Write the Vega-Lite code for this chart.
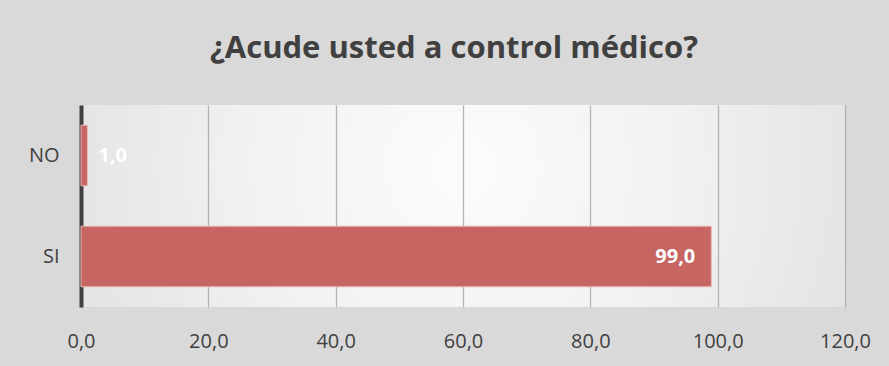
{
  "$schema": "https://vega.github.io/schema/vega-lite/v6.json",
  "width": 764,
  "height": 202,
  "autosize": {"type": "none"},
  "padding": {"left": 81, "top": 105, "right": 44, "bottom": 59},
  "background": "#d9d9d9",
  "title": {
    "text": "¿Acude usted a control médico?",
    "font": "Open Sans",
    "fontSize": 31,
    "fontWeight": "bold",
    "color": "#404040",
    "anchor": "middle",
    "baseline": "alphabetic",
    "offset": 16,
    "dx": -9
  },
  "data": {
    "values": [
      {"respuesta": "NO", "porcentaje": 1.0},
      {"respuesta": "SI", "porcentaje": 99.0}
    ]
  },
  "encoding": {
    "y": {
      "field": "respuesta",
      "type": "nominal",
      "sort": ["NO", "SI"],
      "scale": {"paddingInner": 0.4, "paddingOuter": 0.2},
      "axis": {
        "title": null,
        "ticks": false,
        "grid": false,
        "domain": true,
        "domainColor": "#404040",
        "domainWidth": 4,
        "labelFont": "Open Sans",
        "labelFontSize": 20,
        "labelColor": "#404040",
        "labelPadding": 22
      }
    },
    "x": {
      "field": "porcentaje",
      "type": "quantitative",
      "scale": {"domain": [0, 120], "nice": false},
      "axis": {
        "title": null,
        "values": [0, 20, 40, 60, 80, 100, 120],
        "format": ".1f",
        "ticks": false,
        "domain": false,
        "grid": true,
        "gridColor": "#b3b3b3",
        "gridWidth": 1.3,
        "labelFlush": false,
        "labelFont": "Open Sans",
        "labelFontSize": 20,
        "labelColor": "#404040",
        "labelPadding": 24
      }
    }
  },
  "layer": [
    {
      "mark": {"type": "bar", "color": "#c66562", "stroke": "#eab9b7", "strokeWidth": 1}
    },
    {
      "transform": [{"filter": "datum.porcentaje >= 50"}],
      "mark": {"type": "text", "align": "right", "baseline": "middle", "dx": -16, "font": "Open Sans", "fontSize": 20, "fontWeight": "bold", "color": "#ffffff"},
      "encoding": {"text": {"field": "porcentaje", "type": "quantitative", "format": ".1f"}}
    },
    {
      "transform": [{"filter": "datum.porcentaje < 50"}],
      "mark": {"type": "text", "align": "left", "baseline": "middle", "dx": 11, "font": "Open Sans", "fontSize": 20, "fontWeight": "bold", "color": "#ffffff"},
      "encoding": {"text": {"field": "porcentaje", "type": "quantitative", "format": ".1f"}}
    }
  ],
  "config": {
    "locale": {
      "number": {"decimal": ",", "thousands": ".", "grouping": [3], "currency": ["", " €"]}
    },
    "view": {
      "stroke": null,
      "fill": {
        "gradient": "radial",
        "x1": 0.5, "y1": 0.45, "r1": 0,
        "x2": 0.5, "y2": 0.45, "r2": 0.72,
        "stops": [
          {"offset": 0, "color": "#fcfcfc"},
          {"offset": 0.4, "color": "#f1f1f1"},
          {"offset": 1, "color": "#d9d9d9"}
        ]
      }
    }
  }
}
